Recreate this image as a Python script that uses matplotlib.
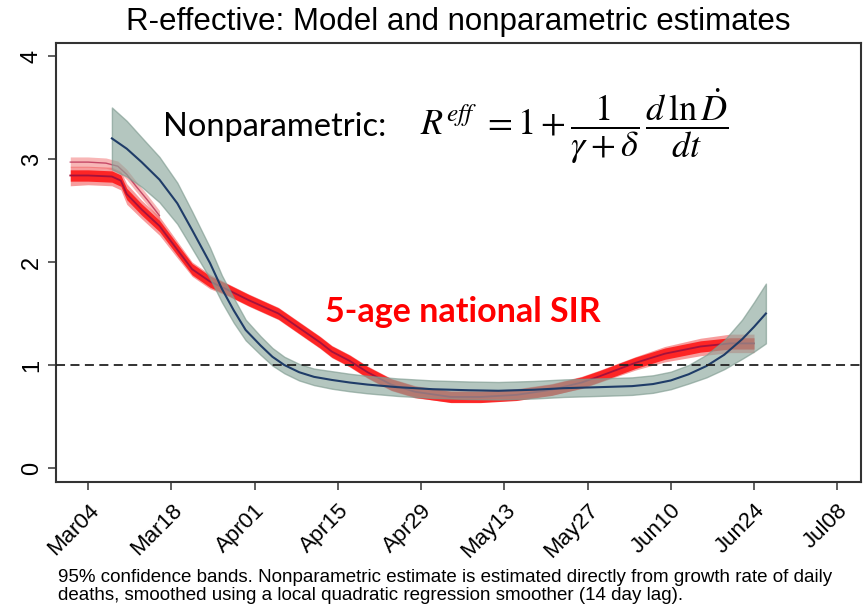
import numpy as np
import pandas as pd
import matplotlib
matplotlib.use("Agg")
import matplotlib.pyplot as plt
import matplotlib.dates as mdates

plt.rcParams['mathtext.fontset'] = 'stix'
sans = ['Liberation Sans Narrow', 'Liberation Sans', 'DejaVu Sans']

base = pd.Timestamp('2020-03-04')

# 5-age national SIR (days after Mar04, R-effective)
sir_days = [-3, 0, 4, 5.5, 6.5, 9, 12, 15, 17.5, 20.5, 23.5, 27, 32, 35.5, 39, 41,
            44, 47, 51, 55, 61, 66, 72, 78, 83, 86, 92, 97, 103, 108, 112]
sir_r = [2.84, 2.84, 2.83, 2.79, 2.66, 2.51, 2.35, 2.12, 1.93, 1.81, 1.73, 1.63, 1.50,
         1.36, 1.22, 1.13, 1.04, 0.93, 0.81, 0.74, 0.69, 0.69, 0.71, 0.76, 0.83, 0.89,
         1.02, 1.11, 1.18, 1.21, 1.21]
sir_lo = [2.74, 2.75, 2.74, 2.70, 2.56, 2.42, 2.26, 2.04, 1.86, 1.74, 1.67, 1.57, 1.44,
          1.30, 1.16, 1.07, 0.98, 0.87, 0.75, 0.68, 0.64, 0.64, 0.66, 0.71, 0.77, 0.83,
          0.95, 1.03, 1.09, 1.12, 1.12]
sir_hi = [2.93, 2.93, 2.92, 2.88, 2.76, 2.60, 2.44, 2.20, 2.00, 1.88, 1.79, 1.69, 1.56,
          1.42, 1.28, 1.19, 1.10, 0.99, 0.87, 0.80, 0.75, 0.75, 0.77, 0.82, 0.89, 0.95,
          1.08, 1.18, 1.26, 1.30, 1.30]

# upper SIR run visible over the first days
sir2_days = [-3, 0, 3, 5, 6.5, 8, 10, 12]
sir2_r = [2.97, 2.97, 2.96, 2.93, 2.85, 2.74, 2.60, 2.45]

# nonparametric estimate
np_days = [4, 6.5, 9, 12, 15, 17.5, 20.5, 22.5, 24.5, 26.5, 29, 31, 33, 35.5, 38, 41,
           44, 47, 52, 58, 64, 69, 75, 80, 86, 91.5, 95, 98, 101, 104, 107, 110, 112, 114]
np_r = [3.20, 3.10, 2.97, 2.80, 2.57, 2.31, 1.99, 1.74, 1.53, 1.34, 1.19, 1.08, 1.00,
        0.93, 0.885, 0.855, 0.83, 0.81, 0.785, 0.765, 0.755, 0.75, 0.76, 0.775, 0.785,
        0.795, 0.815, 0.85, 0.91, 0.99, 1.10, 1.25, 1.37, 1.50]
np_lo = [2.90, 2.83, 2.73, 2.58, 2.37, 2.13, 1.84, 1.61, 1.41, 1.24, 1.10, 0.995, 0.92,
         0.85, 0.805, 0.770, 0.745, 0.725, 0.70, 0.68, 0.67, 0.665, 0.675, 0.69, 0.70,
         0.71, 0.73, 0.765, 0.82, 0.88, 0.96, 1.06, 1.13, 1.21]
np_hi = [3.50, 3.37, 3.21, 3.02, 2.77, 2.49, 2.14, 1.87, 1.65, 1.44, 1.28, 1.165, 1.08,
         1.01, 0.965, 0.94, 0.915, 0.895, 0.87, 0.85, 0.84, 0.835, 0.845, 0.86, 0.87,
         0.88, 0.90, 0.935, 1.00, 1.10, 1.24, 1.44, 1.61, 1.79]

sir_x = base + pd.to_timedelta(sir_days, unit='D')
sir2_x = base + pd.to_timedelta(sir2_days, unit='D')
np_x = base + pd.to_timedelta(np_days, unit='D')
tick_dates = pd.date_range('2020-03-04', periods=10, freq='14D')

fig = plt.figure(figsize=(8.63, 6.07), dpi=100)
ax = fig.add_axes([0.0649, 0.2059, 0.9328, 0.7232])

# SIR bands (under the nonparametric band)
ax.fill_between(sir2_x, np.array(sir2_r) - 0.05, np.array(sir2_r) + 0.05,
                color='#f47a7a', alpha=0.55, linewidth=0, zorder=1)
ax.plot(sir2_x, sir2_r, color='#b01a45', linewidth=1.0, alpha=0.7, zorder=1)
ax.fill_between(sir_x, sir_lo, sir_hi, color='#f25c5c', alpha=0.6, linewidth=0, zorder=2)
ax.fill_between(sir_x, np.array(sir_r) - 0.055, np.array(sir_r) + 0.055,
                color='#ff1010', alpha=0.85, linewidth=0, zorder=3)
ax.plot(sir_x, sir_r, color='#a5123c', linewidth=1.3, zorder=4)

# nonparametric band drawn over the red
ax.fill_between(np_x, np_lo, np_hi, facecolor='#8ca89d', edgecolor='#7f9b90',
                alpha=0.65, linewidth=1, zorder=5)
ax.plot(np_x, np_r, color='#1f3c68', linewidth=1.5, zorder=6)
ax.axhline(1, color='#222222', linestyle=(0, (5, 3)), linewidth=1.3, zorder=7)

ax.set_xlim(base - pd.Timedelta(days=5.4), base + pd.Timedelta(days=130))
ax.set_ylim(-0.136, 4.126)
ax.set_yticks([0, 1, 2, 3, 4])
ax.set_xticks(tick_dates)
ax.xaxis.set_major_formatter(mdates.DateFormatter('%b%d'))
ax.tick_params(axis='both', length=6, width=1.2, color='#444444')
ax.tick_params(axis='x', pad=7)
for lab in ax.get_yticklabels():
    lab.set_rotation(90)
    lab.set_va('center')
    lab.set_family(sans)
    lab.set_fontsize(17)
for lab in ax.get_xticklabels():
    lab.set_rotation(45)
    lab.set_ha('right')
    lab.set_rotation_mode('anchor')
    lab.set_family(sans)
    lab.set_fontsize(16)
for s in ax.spines.values():
    s.set_color('#333333')
    s.set_linewidth(1.5)

fig.text(0.531, 0.963, 'R-effective: Model and nonparametric estimates',
         ha='center', va='center', fontsize=22.5, family=sans)

fig.text(0.189, 0.791, 'Nonparametric:', ha='left', va='center', fontsize=23.5,
         family=['Lato', 'DejaVu Sans'])
fig.text(0.487, 0.792,
         r'$R^{eff}\ = 1 + \dfrac{1}{\gamma+\delta}\,\dfrac{d\,\ln\dot{D}}{dt}$',
         ha='left', va='center', fontsize=26)
fig.text(0.3766, 0.486, '5-age national SIR', ha='left', va='center', fontsize=24.5,
         color='#ff0000', fontweight='bold', family=['Lato', 'DejaVu Sans'])

fig.text(0.067, 0.034,
         '95% confidence bands. Nonparametric estimate is estimated directly from growth rate of daily\n'
         'deaths, smoothed using a local quadratic regression smoother (14 day lag).',
         ha='left', va='center', fontsize=13.5, family=sans, linespacing=1.05)

fig.savefig('out.png', dpi=100)
